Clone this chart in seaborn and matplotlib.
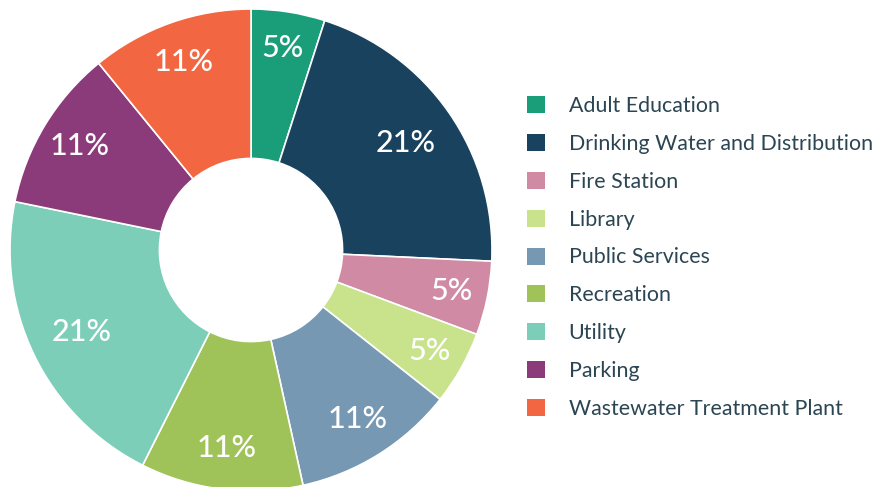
import matplotlib
matplotlib.use("Agg")
import matplotlib.pyplot as plt
import seaborn as sns

categories = ["Adult Education", "Drinking Water and Distribution", "Fire Station",
              "Library", "Public Services", "Recreation", "Utility", "Parking",
              "Wastewater Treatment Plant"]
percents = [5, 21, 5, 5, 11, 11, 21, 11, 11]
colors = ["#1a9e7a", "#19425e", "#d08aa3", "#c8e38c", "#7698b3",
          "#9fc259", "#7cceb8", "#8c3b7a", "#f26641"]

sns.set_theme(style="white")
plt.rcParams['font.family'] = ['Lato', 'DejaVu Sans']
palette = sns.color_palette(colors)

W, H = 877, 487
fig = plt.figure(figsize=(W / 100, H / 100), dpi=100)
cx, cy, R = 251, 250, 241
ax = fig.add_axes([(cx - R) / W, (H - cy - R) / H, 2 * R / W, 2 * R / H])

base = 0.82
wedges, texts = ax.pie(
    percents, colors=palette, startangle=90, counterclock=False,
    radius=1, labels=[f"{p}%" for p in percents], labeldistance=base,
    wedgeprops=dict(width=0.62, edgecolor="white", linewidth=1.2),
    textprops=dict(color="white", fontsize=22, fontweight="medium"))
# wider labels sit a little closer to the hole, narrow ones further out
for t, p in zip(texts, percents):
    t.set_horizontalalignment("center")
    t.set_verticalalignment("center")
    r = 0.85 if p < 10 else (0.83 if p < 20 else 0.78)
    x, y = t.get_position()
    t.set_position((x * r / base, y * r / base))
ax.set_xlim(-1, 1)
ax.set_ylim(-1, 1)
ax.set_aspect("equal")
ax.axis("off")

leg = fig.legend(wedges, categories, loc="upper left",
                 bbox_to_anchor=(527 / W, 1 - 96 / H), frameon=False,
                 fontsize=15.4, handlelength=0.85, handleheight=0.85,
                 handletextpad=1.1, labelspacing=0.835, borderpad=0,
                 borderaxespad=0)
for t in leg.get_texts():
    t.set_color("#2b4553")
for h in leg.legend_handles:
    h.set_edgecolor("none")

fig.savefig("out.png", dpi=100, facecolor="white")
